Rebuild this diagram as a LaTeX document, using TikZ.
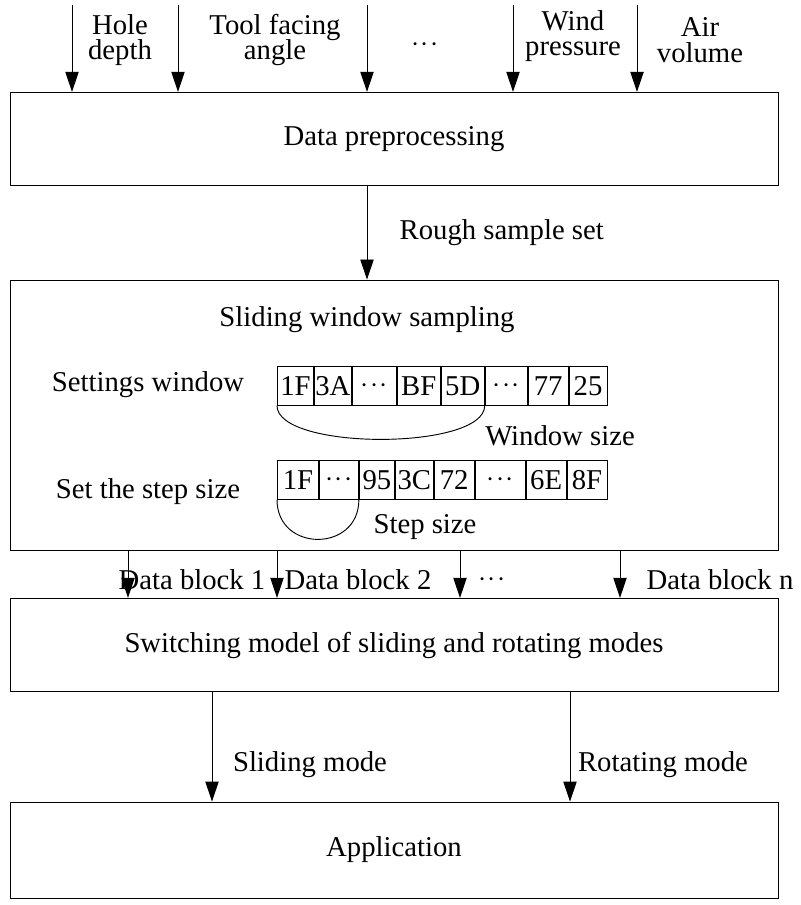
\documentclass[tikz,border=0pt]{standalone}
\usepackage{fontspec}
\setmainfont{Liberation Serif}
\usetikzlibrary{arrows.meta}
\usetikzlibrary{positioning}

\tikzset{
  box/.style={draw, thick, minimum width=23.04cm, minimum height=2.8cm},
  cell/.style={draw, thick, inner sep=0pt, minimum height=1.15cm, anchor=west},
  flow/.style={thick, -{Triangle[length=0.6cm,width=0.4cm]}},
  lbl/.style={align=center, font=\fontsize{24.5}{26}\selectfont},
}
\newcommand{\dotsrow}{$\cdot\!\cdot\!\cdot$}

\begin{document}
\begin{tikzpicture}[x=0.03cm, y=-0.03cm]
	\useasboundingbox (0,0) rectangle (800,905);

	%Boxes
	\node[box, lbl] (prep) at (394,139) {Data preprocessing};
	\node[box, minimum height=8.1cm] (slide) at (394,415) {};
	\node[box, lbl] (switch) at (394,645) {Switching model of sliding and rotating modes};
	\node[box, lbl, minimum height=2.88cm] (app) at (394,850) {Application};

	%Inputs
	\foreach \x/\name in {72/a,178/b,367/c,513/d,637/e}
	{
		\coordinate (in\name) at (\x,5);
		\draw[flow] (in\name) -- (in\name |- prep.north);
	}
	\node[lbl] (hole) at (120,40) {Hole\\[-4pt]depth};
	\node[lbl] (tool) at (275,40) {Tool facing\\[-4pt]angle};
	\node[lbl] (dots1) at (425,45) {\dotsrow};
	\node[lbl] (wind) at (573,36) {Wind\\[-4pt]pressure};
	\node[lbl] (air) at (700,40) {Air\\[-4pt]volume};

	\draw[flow] (prep.south -| inc) -- (slide.north -| inc) node[midway, right=0.85cm, lbl] (rough) {Rough sample set};

	%Sliding window
	\node[lbl] (title) at (367,320) {Sliding window sampling};
	\node[lbl] (setwin) at (148,385) {Settings window};
	\node[lbl] (setstep) at (148,492) {Set the step size};

	\node[cell, lbl, minimum width=1.08cm] (w1) at (277,386) {1F};
	\node[cell, lbl, minimum width=1.11cm, right=0pt of w1] (w2) {3A};
	\node[cell, lbl, minimum width=1.32cm, right=0pt of w2] (w3) {\dotsrow};
	\node[cell, lbl, minimum width=1.29cm, right=0pt of w3] (w4) {BF};
	\node[cell, lbl, minimum width=1.29cm, right=0pt of w4] (w5) {5D};
	\node[cell, lbl, minimum width=1.26cm, right=0pt of w5] (w6) {\dotsrow};
	\node[cell, lbl, minimum width=1.2cm, right=0pt of w6] (w7) {77};
	\node[cell, lbl, minimum width=1.14cm, right=0pt of w7] (w8) {25};
	\draw[thick] (w1.south west) .. controls +(0,45) and +(0,45) .. (w5.south east);
	\node[lbl] (winsize) at (560,436) {Window size};

	\node[cell, lbl, minimum width=1.23cm] (s1) at (277,480) {1F};
	\node[cell, lbl, minimum width=1.17cm, right=0pt of s1] (s2) {\dotsrow};
	\node[cell, lbl, minimum width=1.05cm, right=0pt of s2] (s3) {95};
	\node[cell, lbl, minimum width=1.14cm, right=0pt of s3] (s4) {3C};
	\node[cell, lbl, minimum width=1.2cm, right=0pt of s4] (s5) {72};
	\node[cell, lbl, minimum width=1.5cm, right=0pt of s5] (s6) {\dotsrow};
	\node[cell, lbl, minimum width=1.2cm, right=0pt of s6] (s7) {6E};
	\node[cell, lbl, minimum width=1.2cm, right=0pt of s7] (s8) {8F};
	\draw[thick] (s1.south west) .. controls +(0,53) and +(0,53) .. (s2.south east);
	\node[lbl] (stepsize) at (425,527) {Step size};

	%Data blocks
	\foreach \x in {128,277,460,620}
		\draw[flow] (slide.south -| \x,0) -- (switch.north -| \x,0);
	\node[lbl] (blk1) at (192,580) {Data block 1};
	\node[lbl] (blk2) at (358,580) {Data block 2};
	\node[lbl] (dots2) at (492,580) {\dotsrow};
	\node[lbl] (blkn) at (720,580) {Data block n};

	%Modes
	\draw[flow] (switch.south -| 212,0) -- (app.north -| 212,0);
	\draw[flow] (switch.south -| 570,0) -- (app.north -| 570,0);
	\node[lbl] (sliding) at (310,765) {Sliding mode};
	\node[lbl] (rotating) at (663,765) {Rotating mode};
\end{tikzpicture}
\end{document}
